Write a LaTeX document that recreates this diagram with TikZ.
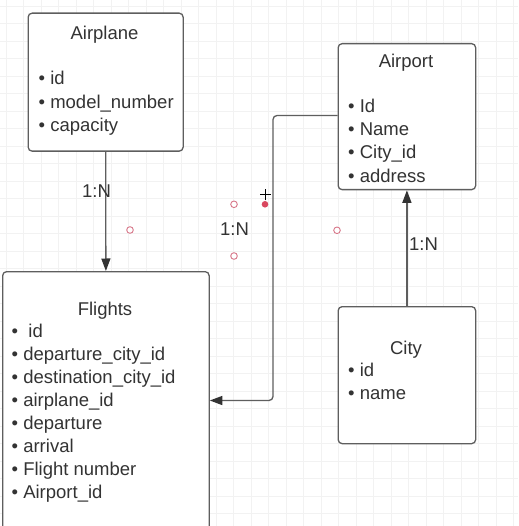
\documentclass[tikz,border=0pt]{standalone}
\usepackage{fontspec}
\setmainfont{Liberation Sans}
\usetikzlibrary{arrows.meta}
\definecolor{txt}{HTML}{333333}
\definecolor{edge}{HTML}{5E5E5E}
\definecolor{pinkc}{HTML}{D8788A}
\definecolor{redc}{HTML}{D9475F}
\begin{document}
\begin{tikzpicture}[x=1pt,y=-1pt,
  font=\fontsize{18.5}{23.3}\selectfont, text=txt,
  entity/.style={draw=edge, line width=1.3pt, rounded corners=4pt, fill=white,
    anchor=north west, inner sep=0pt, rectangle},
  title/.style={anchor=base, inner sep=0pt},
  attr/.style={anchor=base west, inner sep=0pt},
  card/.style={anchor=base west, inner sep=0pt},
  rel/.style={draw=edge, line width=1.3pt, -{Triangle[length=12.5pt,width=9pt,color=txt]}},
  handle/.style={draw=pinkc, line width=0.9pt, fill=white, circle, inner sep=0pt, minimum size=6.6pt},
  handlefill/.style={fill=redc, circle, inner sep=0pt, minimum size=6.6pt}]
\clip (0,0) rectangle (518,526);
\fill[white] (0,0) rectangle (518,526);
% grid
\foreach \i in {0,...,30} {
  \draw[black!5, line width=0.6pt] (6+17.5*\i,0) -- (6+17.5*\i,526);
  \draw[black!5, line width=0.6pt] (0,6+17.5*\i) -- (518,6+17.5*\i);
}
% boxes
\node[entity, minimum width=155pt, minimum height=138pt] (airplane) at (27.5,12.5) {};
\node[entity, minimum width=137.5pt, minimum height=146pt] (airport) at (337.5,43) {};
\node[entity, minimum width=206.5pt, minimum height=290pt] (flights) at (2,271) {};
\node[entity, minimum width=137.5pt, minimum height=137pt] (city) at (337.5,306) {};
% Airplane
\node[title] (t1) at (104.5,39.5) {Airplane};
\node[attr] (a1) at (38.5,85) {• id};
\node[attr] (a2) at (38.5,108.3) {• model\_number};
\node[attr] (a3) at (38.5,131.6) {• capacity};
% Airport
\node[title] (t2) at (406,67.3) {Airport};
\node[attr] (b1) at (348,112.3) {• Id};
\node[attr] (b2) at (348,135.6) {• Name};
\node[attr] (b3) at (348,158.9) {• City\_id};
\node[attr] (b4) at (348,182.2) {• address};
% Flights
\node[title] (t3) at (105,315) {Flights};
\node[attr] (c1) at (11.5,337.3) {•\ \ id};
\node[attr] (c2) at (11.5,360.3) {• departure\_city\_id};
\node[attr] (c3) at (11.5,383.3) {• destination\_city\_id};
\node[attr] (c4) at (11.5,406.4) {• airplane\_id};
\node[attr] (c5) at (11.5,429.5) {• departure};
\node[attr] (c6) at (11.5,452.6) {• arrival};
\node[attr] (c7) at (11.5,475.7) {• Flight number};
\node[attr] (c8) at (11.5,498.6) {• Airport\_id};
% City
\node[title] (t4) at (406,354.3) {City};
\node[attr] (d1) at (348,376.7) {• id};
\node[attr] (d2) at (348,399.5) {• name};
% connectors
\draw[rel] (airplane.south) -- (flights.north);
\draw[rel] (city.north) -- (airport.south);
\coordinate (k1) at (273,115.5);
\coordinate (k2) at (273,400.5);
\draw[rel, rounded corners=4pt] (k1 -| airport.west) -- (k1) -- (k2) -- (k2 -| flights.east);
% cardinalities
\node[card] (n1) at (82,198) {1:N};
\node[card] (n2) at (220,235.7) {1:N};
\node[card] (n3) at (409,250.7) {1:N};
% selection handles
\node[handle] (h1) at (130,230) {};
\node[handle] (h2) at (234,204.3) {};
\node[handle] (h3) at (234,256) {};
\node[handle] (h4) at (337,230.3) {};
\node[handlefill] (h5) at (265,204.3) {};
\coordinate (pc) at (265.5,195);
\draw[black, line width=1pt] ([xshift=-5.5pt]pc) -- ([xshift=5.5pt]pc);
\draw[black, line width=1pt] ([yshift=-5.5pt]pc) -- ([yshift=5.5pt]pc);
\end{tikzpicture}
\end{document}
